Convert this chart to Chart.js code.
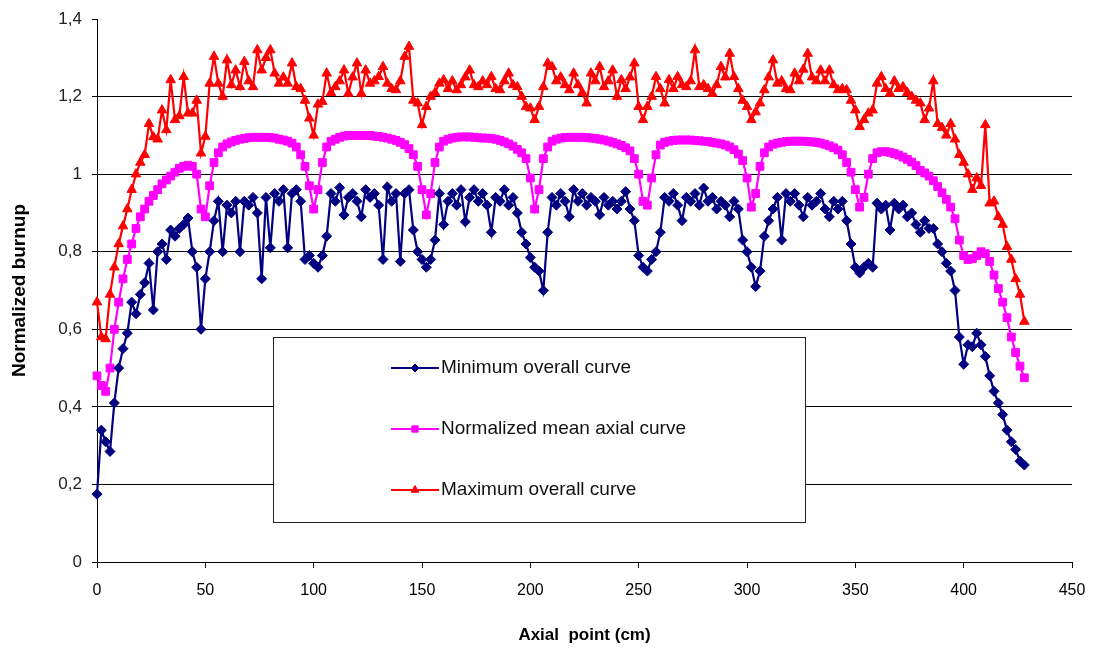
<!DOCTYPE html>
<html><head><meta charset="utf-8">
<script src="https://cdn.jsdelivr.net/npm/chart.js@4/dist/chart.umd.min.js"></script>
<style>html,body{margin:0;padding:0;background:#fff;}canvas{display:block;}</style>
</head><body>
<canvas id="c" width="1094" height="650" style="width:1094px;height:650px"></canvas>
<script>
// Axial positions (cm)
const axialPoints = [
0,2,4,6,8,10,12,14,16,18,20,22,24,26,28,30,32,34,36,38,
40,42,44,46,48,50,52,54,56,58,60,62,64,66,68,70,72,74,76,78,
80,82,84,86,88,90,92,94,96,98,100,102,104,106,108,110,112,114,116,118,
120,122,124,126,128,130,132,134,136,138,140,142,144,146,148,150,152,154,156,158,
160,162,164,166,168,170,172,174,176,178,180,182,184,186,188,190,192,194,196,198,
200,202,204,206,208,210,212,214,216,218,220,222,224,226,228,230,232,234,236,238,
240,242,244,246,248,250,252,254,256,258,260,262,264,266,268,270,272,274,276,278,
280,282,284,286,288,290,292,294,296,298,300,302,304,306,308,310,312,314,316,318,
320,322,324,326,328,330,332,334,336,338,340,342,344,346,348,350,352,354,356,358,
360,362,364,366,368,370,372,374,376,378,380,382,384,386,388,390,392,394,396,398,
400,402,404,406,408,410,412,414,416,418,420,422,424,426,428];

const minCurve = [
0.175,0.34,0.31,0.285,0.41,0.50,0.55,0.59,0.67,0.64,
0.69,0.72,0.77,0.65,0.80,0.82,0.78,0.856,0.84,0.86,
0.87,0.887,0.80,0.76,0.60,0.73,0.80,0.88,0.93,0.80,
0.92,0.90,0.93,0.80,0.93,0.92,0.94,0.90,0.73,0.94,
0.81,0.95,0.93,0.96,0.81,0.95,0.96,0.93,0.78,0.79,
0.77,0.76,0.79,0.84,0.95,0.93,0.965,0.895,0.94,0.95,
0.93,0.89,0.96,0.94,0.95,0.92,0.78,0.967,0.93,0.95,
0.775,0.95,0.96,0.856,0.80,0.78,0.76,0.78,0.83,0.95,
0.87,0.93,0.95,0.92,0.96,0.877,0.94,0.96,0.93,0.95,
0.92,0.85,0.94,0.93,0.96,0.92,0.94,0.90,0.85,0.82,
0.785,0.76,0.75,0.70,0.85,0.94,0.92,0.95,0.93,0.89,
0.96,0.93,0.95,0.92,0.94,0.93,0.895,0.94,0.92,0.93,
0.91,0.93,0.955,0.91,0.88,0.79,0.76,0.75,0.78,0.80,
0.85,0.94,0.93,0.95,0.92,0.88,0.94,0.93,0.95,0.92,
0.964,0.93,0.94,0.91,0.93,0.92,0.89,0.93,0.91,0.83,
0.80,0.76,0.71,0.75,0.84,0.88,0.91,0.94,0.83,0.95,
0.93,0.95,0.92,0.89,0.94,0.92,0.93,0.95,0.91,0.89,
0.93,0.91,0.93,0.88,0.82,0.76,0.745,0.76,0.77,0.76,
0.925,0.91,0.92,0.856,0.925,0.91,0.92,0.89,0.90,0.87,
0.85,0.88,0.86,0.86,0.82,0.80,0.77,0.75,0.70,0.58,
0.51,0.56,0.555,0.59,0.56,0.53,0.48,0.44,0.41,0.38,
0.34,0.31,0.29,0.26,0.25];

const meanCurve = [
0.48,0.455,0.44,0.50,0.60,0.67,0.73,0.78,0.82,0.86,
0.89,0.91,0.93,0.945,0.96,0.975,0.985,0.995,1.005,1.015,
1.02,1.023,1.02,1.00,0.91,0.89,0.97,1.03,1.055,1.07,
1.078,1.083,1.087,1.09,1.092,1.094,1.095,1.095,1.095,1.095,
1.094,1.093,1.09,1.088,1.085,1.08,1.07,1.05,1.02,0.97,
0.91,0.96,1.03,1.07,1.085,1.09,1.095,1.098,1.10,1.10,
1.10,1.10,1.10,1.10,1.098,1.097,1.095,1.093,1.09,1.087,
1.082,1.076,1.066,1.05,1.02,0.96,0.895,0.95,1.03,1.07,
1.085,1.09,1.093,1.095,1.096,1.096,1.096,1.095,1.094,1.093,
1.093,1.092,1.09,1.087,1.083,1.078,1.072,1.064,1.055,1.04,
0.99,0.91,0.96,1.04,1.07,1.085,1.09,1.093,1.094,1.095,
1.095,1.095,1.095,1.094,1.093,1.092,1.09,1.088,1.085,1.082,
1.078,1.074,1.068,1.06,1.04,1.00,0.93,0.92,0.99,1.05,
1.075,1.082,1.085,1.087,1.088,1.088,1.088,1.088,1.087,1.086,
1.085,1.084,1.082,1.08,1.078,1.075,1.07,1.063,1.052,1.035,
0.99,0.915,0.95,1.02,1.055,1.07,1.077,1.08,1.082,1.084,
1.085,1.085,1.085,1.085,1.084,1.083,1.082,1.08,1.077,1.073,
1.068,1.062,1.05,1.03,1.005,0.96,0.915,0.94,1.00,1.04,
1.055,1.058,1.058,1.056,1.053,1.049,1.044,1.038,1.031,1.022,
1.01,1.003,0.995,0.983,0.968,0.952,0.935,0.915,0.885,0.83,
0.79,0.78,0.782,0.79,0.80,0.795,0.775,0.74,0.705,0.67,
0.63,0.58,0.54,0.505,0.475];

const maxCurve = [
0.67,0.58,0.575,0.69,0.76,0.82,0.866,0.91,0.96,1.00,
1.03,1.05,1.13,1.096,1.09,1.165,1.114,1.243,1.14,1.15,
1.251,1.157,1.157,1.19,1.054,1.097,1.234,1.303,1.234,1.20,
1.294,1.23,1.268,1.225,1.29,1.24,1.225,1.32,1.268,1.30,
1.32,1.26,1.234,1.25,1.234,1.286,1.225,1.22,1.19,1.144,
1.10,1.18,1.187,1.26,1.21,1.225,1.24,1.268,1.208,1.25,
1.286,1.208,1.268,1.234,1.24,1.251,1.277,1.234,1.22,1.217,
1.24,1.303,1.329,1.19,1.183,1.127,1.174,1.20,1.21,1.234,
1.243,1.22,1.24,1.217,1.23,1.25,1.268,1.23,1.225,1.24,
1.23,1.251,1.22,1.217,1.24,1.26,1.23,1.225,1.20,1.174,
1.17,1.14,1.174,1.225,1.286,1.277,1.24,1.25,1.23,1.217,
1.26,1.23,1.21,1.183,1.26,1.24,1.277,1.225,1.24,1.268,
1.20,1.243,1.22,1.25,1.286,1.174,1.14,1.174,1.20,1.251,
1.22,1.183,1.243,1.22,1.251,1.23,1.225,1.24,1.32,1.225,
1.23,1.22,1.208,1.23,1.277,1.25,1.311,1.251,1.22,1.19,
1.174,1.14,1.16,1.183,1.217,1.25,1.294,1.234,1.24,1.22,
1.217,1.26,1.24,1.27,1.311,1.25,1.24,1.268,1.24,1.268,
1.23,1.217,1.22,1.217,1.19,1.165,1.122,1.14,1.157,1.165,
1.234,1.251,1.22,1.208,1.24,1.22,1.225,1.21,1.20,1.19,
1.183,1.14,1.17,1.24,1.13,1.12,1.10,1.13,1.09,1.05,
1.03,1.00,0.96,0.99,0.97,1.127,0.925,0.93,0.89,0.87,
0.813,0.78,0.73,0.69,0.62];

const seriesNames = ['Minimum overall curve','Normalized mean axial curve','Maximum overall curve'];
const xTickValues = [0,50,100,150,200,250,300,350,400,450];
const xTickLabels = ['0','50','100','150','200','250','300','350','400','450'];
const yTickValues = [0,0.2,0.4,0.6,0.8,1,1.2,1.4];
const yTickLabels = ['0','0,2','0,4','0,6','0,8','1','1,2','1,4'];

const FONT = '"Liberation Sans", Arial, sans-serif';
const seriesStyles = [
  {color:'#000080', pointStyle:'rectRot', radius:5, legendRadius:4},
  {color:'#FF00FF', pointStyle:'rect', radius:5.5, legendRadius:4.5},
  {color:'#FF0000', pointStyle:'triangle', radius:5.5, legendRadius:4.5}
];
const toXY = ys => ys.map((y,i) => ({x: axialPoints[i], y: y}));

const boxLegend = {
  id: 'boxLegend',
  afterDraw(chart) {
    const ctx = chart.ctx;
    const box = {l:273, t:337, w:532, h:185};
    ctx.save();
    ctx.fillStyle = '#fff';
    ctx.fillRect(box.l, box.t, box.w, box.h);
    ctx.strokeStyle = '#222';
    ctx.lineWidth = 1;
    ctx.strokeRect(box.l + 0.5, box.t + 0.5, box.w, box.h);
    const rows = [368, 429, 490];
    seriesNames.forEach((name, i) => {
      const st = seriesStyles[i];
      const y = rows[i];
      ctx.strokeStyle = st.color;
      ctx.lineWidth = 2;
      ctx.beginPath(); ctx.moveTo(391, y); ctx.lineTo(439, y); ctx.stroke();
      ctx.fillStyle = st.color;
      ctx.lineWidth = 1;
      Chart.helpers.drawPoint(ctx, {pointStyle: st.pointStyle, radius: st.legendRadius, rotation: 0, borderWidth: 1}, 415, y);
      ctx.fillStyle = '#111';
      ctx.font = '19px ' + FONT;
      ctx.textBaseline = 'middle';
      ctx.textAlign = 'left';
      ctx.fillText(name, 441, y);
    });
    ctx.restore();
  }
};

new Chart(document.getElementById('c'), {
  type: 'line',
  data: {
    datasets: [minCurve, meanCurve, maxCurve].map((d, i) => ({
      label: seriesNames[i],
      data: toXY(d),
      borderColor: seriesStyles[i].color,
      backgroundColor: seriesStyles[i].color,
      pointStyle: seriesStyles[i].pointStyle,
      pointRadius: seriesStyles[i].radius,
      pointBorderWidth: 1,
      borderWidth: 2.2,
      tension: 0,
      fill: false,
      clip: false
    }))
  },
  options: {
    responsive: false,
    animation: false,
    devicePixelRatio: 1,
    layout: {padding: {top: 19, right: 22, left: 0, bottom: 0}},
    plugins: {legend: {display: false}, tooltip: {enabled: false}},
    scales: {
      x: {
        type: 'linear', min: 0, max: 450,
        afterBuildTicks: s => { s.ticks = xTickValues.map(v => ({value: v})); },
        ticks: {callback: (v, i) => xTickLabels[i], font: {family: FONT, size: 16}, color: '#000', padding: 13, maxRotation: 0, autoSkip: false},
        grid: {drawOnChartArea: false, color: '#000', tickColor: '#000', tickLength: 6},
        border: {color: '#000', width: 1},
        title: {display: true, text: 'Axial  point (cm)', font: {family: FONT, size: 17, weight: 'bold'}, color: '#000', padding: {top: 0, bottom: 4}},
        afterFit: s => { s.height = 88; s.paddingLeft = 0; s.paddingRight = 0; }
      },
      y: {
        type: 'linear', min: 0, max: 1.4,
        afterBuildTicks: s => { s.ticks = yTickValues.map(v => ({value: v})); },
        ticks: {callback: (v, i) => yTickLabels[i], font: {family: FONT, size: 17}, color: '#222', padding: 10, autoSkip: false},
        grid: {color: c => (c.tick && c.tick.value >= 1.4) ? 'rgba(0,0,0,0)' : '#000', tickColor: '#000', tickLength: 5, lineWidth: 1},
        border: {color: '#000', width: 1},
        title: {display: true, text: 'Normalized burnup', font: {family: FONT, size: 19, weight: 'bold'}, color: '#000', padding: {top: 8, bottom: 0}},
        afterFit: s => { s.width = 97; s.paddingTop = 0; s.paddingBottom = 0; }
      }
    }
  },
  plugins: [boxLegend]
});
</script>
</body></html>
